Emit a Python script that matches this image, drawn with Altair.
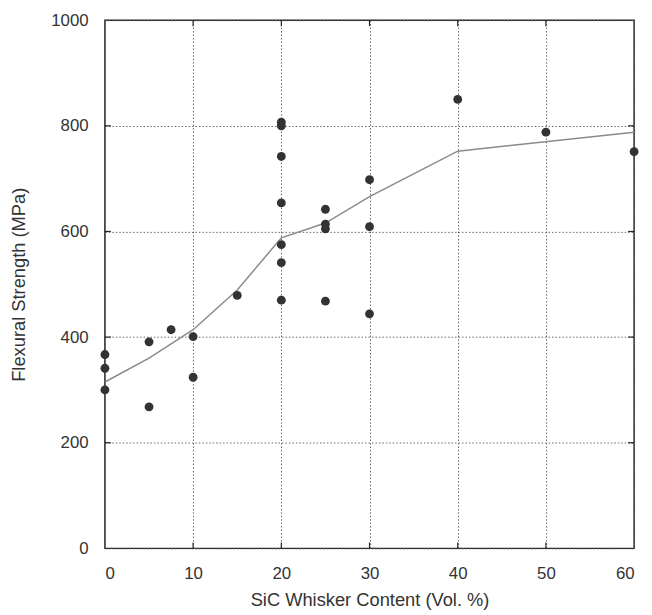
import altair as alt
import pandas as pd

# Measured data points
pt_x = [0, 0, 0, 5, 5, 7.5, 10, 10, 15,
        20, 20, 20, 20, 20, 20, 20,
        25, 25, 25, 25, 30, 30, 30, 40, 50, 60]
pt_y = [367, 341, 300, 391, 268, 414, 401, 324, 479,
        807, 800, 742, 654, 575, 541, 470,
        642, 614, 605, 468, 698, 609, 444, 850, 788, 751]

# Trend line
ln_x = [0, 5, 10, 15, 20, 25, 30, 40, 60]
ln_y = [315, 360, 414, 489, 588, 616, 666, 752, 788]

x_ticks = [0, 10, 20, 30, 40, 50, 60]
y_ticks = [0, 200, 400, 600, 800, 1000]

W, H = 535, 534

pts = pd.DataFrame({"x": pt_x, "y": pt_y})
ln = pd.DataFrame({"x": ln_x, "y": ln_y})
xt = pd.DataFrame({"x": x_ticks[1:-1]})
yt = pd.DataFrame({"y": y_ticks[1:-1]})

xs = alt.Scale(domain=[0, 60], nice=False, zero=False)
ys = alt.Scale(domain=[0, 1000], nice=False)

xax = alt.Axis(values=x_ticks, title="SiC Whisker Content (Vol. %)",
               ticks=False, labelPadding=17, titlePadding=10, format="d")
yax = alt.Axis(values=y_ticks, title="Flexural Strength (MPa)",
               ticks=False, labelPadding=17, titlePadding=22, format="d")

line = alt.Chart(ln).mark_line(color="#8a8a8a", strokeWidth=1.5).encode(
    x=alt.X("x:Q", scale=xs, axis=xax),
    y=alt.Y("y:Q", scale=ys, axis=yax),
)
dots = alt.Chart(pts).mark_circle(color="#333333", opacity=1, size=80).encode(
    x=alt.X("x:Q", scale=xs),
    y=alt.Y("y:Q", scale=ys),
)

tick_col = "#222"
xb = alt.Chart(xt).mark_rule(color=tick_col, strokeWidth=1.2).encode(
    x=alt.X("x:Q", scale=xs), y=alt.value(H), y2=alt.value(H - 6))
xtop = alt.Chart(xt).mark_rule(color=tick_col, strokeWidth=1.2).encode(
    x=alt.X("x:Q", scale=xs), y=alt.value(0), y2=alt.value(6))
yl = alt.Chart(yt).mark_rule(color=tick_col, strokeWidth=1.2).encode(
    y=alt.Y("y:Q", scale=ys), x=alt.value(0), x2=alt.value(6))
yr = alt.Chart(yt).mark_rule(color=tick_col, strokeWidth=1.2).encode(
    y=alt.Y("y:Q", scale=ys), x=alt.value(W), x2=alt.value(W - 6))

chart = (line + xb + xtop + yl + yr + dots).properties(
    width=W, height=H, background="white",
    padding={"left": 2, "top": 0, "right": 5, "bottom": 0}
).configure_view(
    stroke="#222", strokeWidth=1.5
).configure_axis(
    grid=True, gridColor="#666", gridDash=[1.5, 2], gridWidth=1,
    domain=False,
    labelFont="Liberation Sans", titleFont="Liberation Sans",
    labelFontSize=17, titleFontSize=18.5, labelColor="#333", titleColor="#333",
    titleFontWeight="normal",
)

chart.save("out.html", embed_options={"renderer": "svg", "actions": False})
